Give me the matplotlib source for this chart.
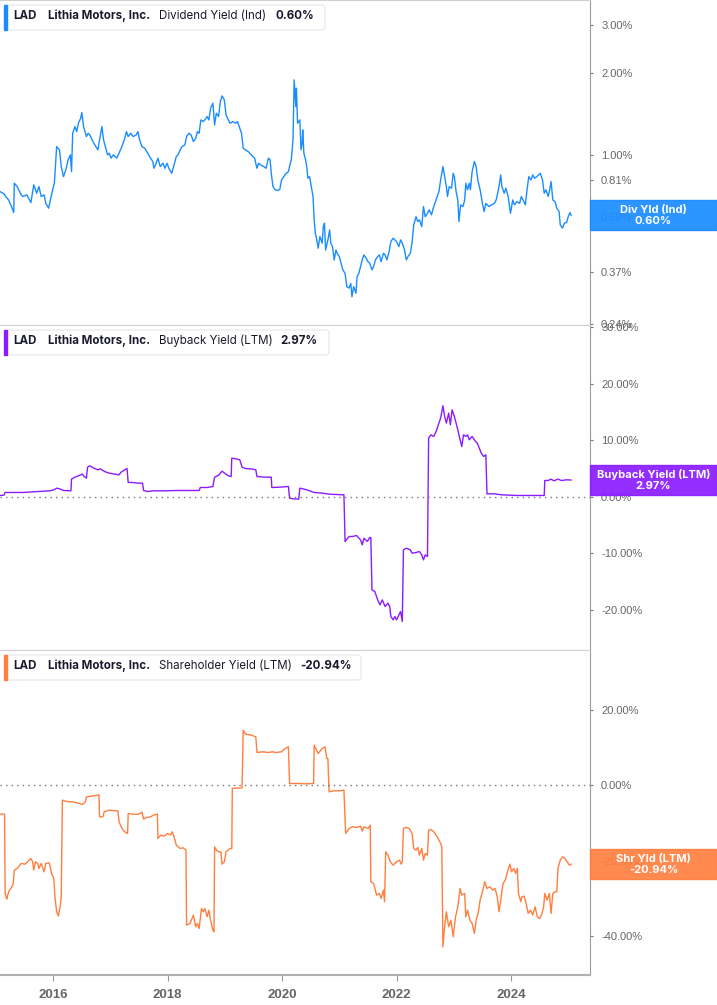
import matplotlib.pyplot as plt
from matplotlib.patches import Rectangle, FancyBboxPatch

# ---- data (decimal years, percent) ----
div_x = [2015.07, 2015.14, 2015.17, 2015.22, 2015.27, 2015.31, 2015.32, 2015.37, 2015.44, 2015.47,
         2015.54, 2015.61, 2015.66, 2015.71, 2015.75, 2015.79, 2015.84, 2015.87, 2015.92, 2015.95,
         2015.99, 2016.02, 2016.06, 2016.11, 2016.14, 2016.18, 2016.22, 2016.26, 2016.30, 2016.32,
         2016.34, 2016.38, 2016.41, 2016.44, 2016.48, 2016.50, 2016.53, 2016.58, 2016.61, 2016.64,
         2016.68, 2016.71, 2016.78, 2016.82, 2016.85, 2016.88, 2016.91, 2016.95, 2016.98, 2017.01,
         2017.05, 2017.08, 2017.11, 2017.15, 2017.20, 2017.25, 2017.28, 2017.31, 2017.35, 2017.40,
         2017.45, 2017.48, 2017.51, 2017.55, 2017.60, 2017.65, 2017.70, 2017.74, 2017.76, 2017.80,
         2017.83, 2017.87, 2017.92, 2017.95, 2017.99, 2018.02, 2018.07, 2018.12, 2018.15, 2018.18,
         2018.22, 2018.25, 2018.30, 2018.33, 2018.37, 2018.41, 2018.45, 2018.49, 2018.52, 2018.55,
         2018.58, 2018.62, 2018.65, 2018.69, 2018.72, 2018.75, 2018.79, 2018.82, 2018.85, 2018.89,
         2018.92, 2018.95, 2018.99, 2019.02, 2019.06, 2019.09, 2019.14, 2019.19, 2019.22, 2019.26,
         2019.29, 2019.32, 2019.36, 2019.41, 2019.46, 2019.52, 2019.56, 2019.59, 2019.62, 2019.68,
         2019.72, 2019.76, 2019.79, 2019.81, 2019.84, 2019.88, 2019.93, 2019.96, 2019.99, 2020.03,
         2020.06, 2020.11, 2020.13, 2020.16, 2020.19, 2020.21, 2020.24, 2020.25, 2020.27, 2020.31,
         2020.33, 2020.35, 2020.36, 2020.38, 2020.41, 2020.43, 2020.45, 2020.48, 2020.51, 2020.54,
         2020.56, 2020.58, 2020.60, 2020.63, 2020.66, 2020.70, 2020.72, 2020.74, 2020.76, 2020.80,
         2020.83, 2020.85, 2020.88, 2020.91, 2020.94, 2020.96, 2021.00, 2021.03, 2021.06, 2021.10,
         2021.13, 2021.17, 2021.20, 2021.22, 2021.25, 2021.29, 2021.31, 2021.34, 2021.37, 2021.40,
         2021.43, 2021.47, 2021.50, 2021.53, 2021.57, 2021.60, 2021.63, 2021.67, 2021.70, 2021.73,
         2021.77, 2021.80, 2021.83, 2021.87, 2021.90, 2021.94, 2021.97, 2022.00, 2022.04, 2022.07,
         2022.10, 2022.14, 2022.17, 2022.20, 2022.24, 2022.27, 2022.30, 2022.34, 2022.37, 2022.40,
         2022.44, 2022.47, 2022.50, 2022.54, 2022.57, 2022.61, 2022.64, 2022.67, 2022.71, 2022.74,
         2022.77, 2022.81, 2022.84, 2022.87, 2022.89, 2022.92, 2022.96, 2022.99, 2023.01, 2023.04,
         2023.07, 2023.09, 2023.12, 2023.16, 2023.19, 2023.21, 2023.24, 2023.27, 2023.29, 2023.32,
         2023.36, 2023.39, 2023.42, 2023.46, 2023.50, 2023.53, 2023.56, 2023.61, 2023.66, 2023.71,
         2023.74, 2023.78, 2023.82, 2023.84, 2023.88, 2023.91, 2023.95, 2023.99, 2024.03, 2024.06,
         2024.10, 2024.15, 2024.18, 2024.21, 2024.25, 2024.28, 2024.31, 2024.35, 2024.38, 2024.41,
         2024.45, 2024.48, 2024.51, 2024.55, 2024.58, 2024.61, 2024.65, 2024.68, 2024.70, 2024.73,
         2024.77, 2024.80, 2024.84, 2024.86, 2024.90, 2024.93, 2024.97, 2025.00, 2025.03, 2025.05]
div_y = [0.733, 0.719, 0.703, 0.683, 0.646, 0.614, 0.787, 0.765, 0.713, 0.703,
         0.713, 0.668, 0.776, 0.723, 0.765, 0.703, 0.713, 0.664, 0.637, 0.683,
         0.744, 0.787, 1.073, 1.043, 0.906, 0.832, 0.881, 0.959, 1.000, 0.868,
         1.201, 1.271, 1.218, 1.307, 1.364, 1.431, 1.271, 1.168, 1.201, 1.184,
         1.135, 1.104, 1.043, 1.168, 1.271, 1.135, 1.073, 1.000, 1.014, 0.973,
         1.000, 0.986, 0.973, 1.014, 1.073, 1.151, 1.218, 1.168, 1.201, 1.168,
         1.184, 1.218, 1.135, 1.073, 1.058, 1.014, 0.973, 0.946, 0.893, 0.932,
         0.973, 0.906, 0.932, 0.893, 0.932, 0.893, 0.856, 0.932, 0.986, 1.000,
         1.043, 1.073, 1.088, 1.168, 1.201, 1.184, 1.119, 1.151, 1.218, 1.201,
         1.345, 1.326, 1.345, 1.384, 1.345, 1.484, 1.549, 1.289, 1.423, 1.384,
         1.571, 1.648, 1.593, 1.403, 1.345, 1.307, 1.326, 1.307, 1.326, 1.253,
         1.201, 1.058, 1.043, 1.028, 1.000, 0.973, 0.893, 0.932, 0.919, 0.906,
         0.893, 0.973, 0.959, 0.856, 0.765, 0.744, 0.740, 0.748, 0.809, 0.832,
         0.851, 0.868, 0.906, 0.959, 1.135, 1.887, 1.505, 1.759, 1.307, 1.345,
         1.043, 1.104, 1.236, 1.014, 0.959, 0.906, 0.821, 0.832, 0.765, 0.703,
         0.577, 0.515, 0.494, 0.454, 0.501, 0.474, 0.545, 0.561, 0.447, 0.487,
         0.530, 0.474, 0.460, 0.411, 0.447, 0.435, 0.423, 0.400, 0.378, 0.367,
         0.328, 0.324, 0.337, 0.301, 0.328, 0.310, 0.357, 0.367, 0.389, 0.411,
         0.429, 0.417, 0.405, 0.400, 0.378, 0.389, 0.411, 0.423, 0.429, 0.405,
         0.435, 0.429, 0.411, 0.441, 0.480, 0.494, 0.487, 0.480, 0.460, 0.487,
         0.474, 0.447, 0.411, 0.423, 0.435, 0.474, 0.553, 0.593, 0.569, 0.577,
         0.545, 0.646, 0.593, 0.610, 0.628, 0.602, 0.637, 0.664, 0.703, 0.733,
         0.809, 0.906, 0.832, 0.765, 0.703, 0.765, 0.754, 0.856, 0.832, 0.733,
         0.683, 0.569, 0.655, 0.646, 0.683, 0.787, 0.744, 0.787, 0.744, 0.868,
         0.946, 0.906, 0.809, 0.744, 0.664, 0.619, 0.664, 0.646, 0.655, 0.664,
         0.683, 0.744, 0.844, 0.765, 0.723, 0.754, 0.703, 0.610, 0.683, 0.655,
         0.673, 0.664, 0.703, 0.683, 0.655, 0.744, 0.832, 0.809, 0.844, 0.821,
         0.832, 0.844, 0.856, 0.809, 0.723, 0.744, 0.703, 0.754, 0.798, 0.683,
         0.673, 0.637, 0.619, 0.553, 0.538, 0.561, 0.564, 0.593, 0.614, 0.600]

buy_x = [2015.07, 2015.14, 2015.16, 2015.27, 2015.47, 2015.74, 2015.94, 2016.01, 2016.06, 2016.11,
         2016.18, 2016.28, 2016.31, 2016.32, 2016.38, 2016.44, 2016.51, 2016.54, 2016.58, 2016.60,
         2016.64, 2016.71, 2016.78, 2016.82, 2016.87, 2016.91, 2016.98, 2017.08, 2017.15, 2017.18,
         2017.25, 2017.29, 2017.31, 2017.38, 2017.48, 2017.56, 2017.58, 2017.65, 2017.75, 2017.95,
         2018.15, 2018.42, 2018.55, 2018.57, 2018.69, 2018.79, 2018.82, 2018.89, 2018.95, 2019.01,
         2019.06, 2019.11, 2019.12, 2019.19, 2019.26, 2019.30, 2019.36, 2019.49, 2019.54, 2019.56,
         2019.69, 2019.81, 2019.82, 2019.96, 2020.11, 2020.13, 2020.19, 2020.29, 2020.31, 2020.36,
         2020.43, 2020.56, 2020.70, 2020.83, 2021.08, 2021.10, 2021.17, 2021.23, 2021.30, 2021.37,
         2021.40, 2021.43, 2021.49, 2021.53, 2021.55, 2021.57, 2021.62, 2021.67, 2021.71, 2021.75,
         2021.80, 2021.85, 2021.88, 2021.90, 2021.94, 2021.97, 2022.00, 2022.04, 2022.07, 2022.10,
         2022.12, 2022.17, 2022.24, 2022.27, 2022.34, 2022.40, 2022.44, 2022.47, 2022.50, 2022.54,
         2022.56, 2022.60, 2022.65, 2022.69, 2022.74, 2022.77, 2022.81, 2022.84, 2022.87, 2022.91,
         2022.94, 2022.97, 2023.01, 2023.04, 2023.07, 2023.11, 2023.14, 2023.17, 2023.21, 2023.24,
         2023.27, 2023.32, 2023.38, 2023.41, 2023.48, 2023.52, 2023.56, 2023.58, 2023.71, 2023.84,
         2024.11, 2024.45, 2024.58, 2024.59, 2024.65, 2024.70, 2024.75, 2024.82, 2024.88, 2024.97,
         2025.05]
buy_y = [0.24, 0.30, 0.77, 0.77, 0.77, 0.94, 1.06, 1.24, 1.53, 1.42,
         1.12, 1.06, 1.06, 3.13, 3.48, 3.72, 4.01, 3.60, 3.30, 5.25,
         5.49, 5.07, 4.78, 4.96, 4.66, 4.42, 4.19, 4.01, 3.89, 4.31,
         4.78, 5.01, 2.54, 2.54, 2.42, 2.42, 1.12, 0.94, 1.06, 1.06,
         1.12, 1.12, 1.12, 1.65, 1.65, 1.83, 3.48, 3.83, 4.54, 4.07,
         3.72, 3.60, 6.84, 6.73, 6.55, 5.25, 5.01, 4.90, 4.78, 3.60,
         3.48, 3.48, 1.65, 1.71, 1.83, -0.24, -0.35, -0.41, 1.53, 1.42,
         1.24, 0.77, 0.65, 0.47, 0.35, -7.90, -7.02, -7.02, -6.84, -7.61,
         -8.50, -7.32, -7.90, -7.20, -7.20, -16.46, -16.76, -18.23, -19.12, -18.23,
         -19.41, -18.82, -19.41, -21.18, -21.77, -21.18, -21.77, -20.88, -20.29, -22.06,
         -9.38, -9.09, -9.38, -9.97, -9.85, -9.68, -10.27, -11.15, -10.27, -10.56,
         10.38, 10.97, 10.68, 11.56, 13.04, 13.92, 16.11, 14.22, 13.04, 14.81,
         12.74, 15.40, 14.22, 13.04, 11.86, 10.09, 8.91, 10.97, 10.68, 10.97,
         10.09, 10.68, 9.79, 9.50, 7.73, 7.14, 7.43, 0.53, 0.53, 0.35,
         0.24, 0.24, 0.24, 2.89, 2.89, 3.13, 2.83, 3.13, 2.89, 3.01,
         2.97]

shr_x = [2015.07, 2015.15, 2015.16, 2015.19, 2015.22, 2015.26, 2015.30, 2015.32, 2015.37, 2015.44,
         2015.51, 2015.55, 2015.61, 2015.64, 2015.66, 2015.69, 2015.73, 2015.75, 2015.79, 2015.84,
         2015.87, 2015.93, 2015.97, 2016.01, 2016.03, 2016.06, 2016.09, 2016.12, 2016.14, 2016.16,
         2016.21, 2016.28, 2016.34, 2016.41, 2016.51, 2016.56, 2016.58, 2016.68, 2016.80, 2016.81,
         2016.87, 2016.89, 2016.98, 2017.08, 2017.13, 2017.15, 2017.20, 2017.25, 2017.30, 2017.31,
         2017.38, 2017.48, 2017.55, 2017.58, 2017.63, 2017.70, 2017.75, 2017.82, 2017.83, 2017.88,
         2017.94, 2018.00, 2018.05, 2018.08, 2018.12, 2018.15, 2018.22, 2018.27, 2018.32, 2018.33,
         2018.39, 2018.45, 2018.49, 2018.52, 2018.55, 2018.59, 2018.62, 2018.65, 2018.69, 2018.72,
         2018.75, 2018.79, 2018.81, 2018.82, 2018.85, 2018.89, 2018.93, 2018.95, 2018.99, 2019.02,
         2019.09, 2019.12, 2019.13, 2019.30, 2019.32, 2019.36, 2019.46, 2019.54, 2019.56, 2019.66,
         2019.76, 2019.83, 2019.89, 2019.99, 2020.03, 2020.11, 2020.13, 2020.29, 2020.43, 2020.55,
         2020.56, 2020.60, 2020.63, 2020.70, 2020.75, 2020.78, 2020.80, 2020.82, 2020.90, 2021.00,
         2021.08, 2021.11, 2021.17, 2021.23, 2021.30, 2021.37, 2021.40, 2021.43, 2021.50, 2021.54,
         2021.55, 2021.60, 2021.65, 2021.70, 2021.73, 2021.77, 2021.79, 2021.81, 2021.85, 2021.89,
         2021.94, 2022.00, 2022.05, 2022.08, 2022.10, 2022.12, 2022.17, 2022.22, 2022.27, 2022.30,
         2022.34, 2022.37, 2022.40, 2022.44, 2022.47, 2022.50, 2022.54, 2022.56, 2022.60, 2022.65,
         2022.71, 2022.77, 2022.79, 2022.81, 2022.84, 2022.87, 2022.91, 2022.95, 2022.99, 2023.03,
         2023.07, 2023.11, 2023.14, 2023.19, 2023.21, 2023.24, 2023.28, 2023.32, 2023.36, 2023.39,
         2023.43, 2023.46, 2023.50, 2023.54, 2023.58, 2023.63, 2023.68, 2023.72, 2023.76, 2023.79,
         2023.82, 2023.86, 2023.90, 2023.94, 2023.98, 2024.01, 2024.05, 2024.08, 2024.11, 2024.13,
         2024.17, 2024.19, 2024.23, 2024.27, 2024.30, 2024.34, 2024.38, 2024.42, 2024.46, 2024.50,
         2024.54, 2024.57, 2024.59, 2024.63, 2024.67, 2024.70, 2024.73, 2024.77, 2024.80, 2024.82,
         2024.86, 2024.90, 2024.94, 2024.98, 2025.02, 2025.05]
shr_y = [-7.68, -7.68, -28.70, -30.20, -28.26, -27.37, -26.23, -22.52, -22.08, -20.75,
         -20.93, -20.31, -19.43, -20.31, -22.52, -20.31, -20.75, -22.08, -20.75, -22.96,
         -20.75, -20.57, -23.40, -24.72, -29.58, -33.55, -34.70, -32.23, -29.58, -3.97,
         -4.24, -4.42, -4.42, -4.68, -5.12, -4.42, -3.09, -2.91, -2.56, -8.39,
         -8.39, -7.06, -6.62, -6.80, -6.80, -9.71, -11.48, -12.36, -12.80, -7.51,
         -7.68, -7.77, -7.15, -9.01, -8.57, -8.39, -7.95, -7.68, -14.13, -13.25,
         -13.51, -12.80, -13.25, -12.36, -14.13, -15.89, -16.78, -16.60, -17.22, -37.09,
         -36.64, -34.44, -37.53, -36.64, -37.97, -32.67, -33.55, -32.67, -34.88, -33.11,
         -35.76, -38.41, -38.85, -16.34, -17.22, -17.66, -17.66, -20.93, -20.31, -17.66,
         -16.78, -16.78, -0.88, -0.71, 14.57, 13.51, 13.25, 12.80, 8.65, 8.83,
         8.65, 8.83, 8.65, 8.83, 9.45, 10.15, 0.44, 0.44, 0.35, 0.44,
         10.60, 9.27, 8.39, 9.71, 10.15, 7.06, 7.06, -1.77, -1.50, -1.50,
         -1.32, -12.80, -11.48, -11.04, -11.21, -10.86, -12.19, -11.04, -11.48, -10.60,
         -25.61, -26.05, -29.14, -28.70, -30.02, -27.81, -30.90, -17.66, -18.54, -20.31,
         -21.19, -20.31, -19.87, -20.93, -20.31, -11.48, -11.21, -11.48, -12.80, -16.78,
         -17.22, -16.51, -18.54, -16.78, -19.87, -18.10, -18.54, -11.92, -11.74, -12.36,
         -13.69, -15.45, -16.34, -42.83, -37.53, -33.55, -37.53, -35.76, -40.18, -34.88,
         -32.23, -27.37, -29.14, -28.70, -34.88, -33.11, -35.76, -36.64, -39.29, -35.76,
         -33.55, -30.46, -28.26, -25.61, -27.37, -26.93, -27.81, -27.37, -29.58, -33.55,
         -30.46, -26.05, -25.17, -22.88, -20.93, -22.96, -22.08, -23.40, -22.08, -28.70,
         -30.90, -29.58, -29.40, -31.79, -33.99, -33.11, -34.44, -32.23, -34.88, -35.32,
         -33.99, -32.23, -28.70, -30.46, -28.70, -33.99, -28.70, -28.26, -28.26, -22.08,
         -19.87, -18.98, -19.43, -20.31, -21.19, -20.94]

year_ticks = [2016, 2018, 2020, 2022, 2024]
div_ticks = [3.0, 2.0, 1.0, 0.81, 0.59, 0.37, 0.24]
buy_ticks = [30, 20, 10, 0, -10, -20]
shr_ticks = [20, 0, -20, -40]

W, H = 717, 1005
fig = plt.figure(figsize=(W / 100, H / 100), dpi=100)

GRID = "#d0d0d0"
AXC = "#9a9a9a"
TXT = "#666666"


def make_ax(top, bottom):
    ax = fig.add_axes([0, 1 - bottom / H, 590 / W, (bottom - top) / H])
    ax.set_xlim(2015.07, 2025.38)
    ax.yaxis.tick_right()
    ax.spines["left"].set_visible(False)
    ax.spines["right"].set_color(AXC)
    ax.spines["top"].set_color(GRID)
    ax.spines["bottom"].set_color(GRID)
    ax.tick_params(axis="y", which="major", length=2, color="#777777",
                   labelsize=8, labelcolor=TXT, pad=6)
    ax.tick_params(axis="y", which="minor", length=0)
    return ax


ax1 = make_ax(0, 325)
ax2 = make_ax(325, 650)
ax3 = make_ax(650, 975)

# panel 1 - dividend yield (log scale)
ax1.plot(div_x, div_y, color="#1a8cff", lw=1.0)
ax1.set_yscale("log")
ax1.set_ylim(0.237, 3.71)
ax1.set_yticks(div_ticks)
ax1.set_yticklabels(["%.2f%%" % v for v in div_ticks], family="Liberation Sans")
ax1.minorticks_off()

# panel 2 - buyback yield
ax2.plot(buy_x, buy_y, color="#8a1cff", lw=1.0)
ax2.axhline(0, color="#777777", lw=1, ls=(0, (1, 3)))
ax2.set_ylim(-27.1, 30.4)
ax2.set_yticks(buy_ticks)
ax2.set_yticklabels(["%.2f%%" % v for v in buy_ticks], family="Liberation Sans")

# panel 3 - shareholder yield
ax3.plot(shr_x, shr_y, color="#ff7f3f", lw=1.0)
ax3.axhline(0, color="#777777", lw=1, ls=(0, (1, 3)))
ax3.set_ylim(-50.3, 35.8)
ax3.set_yticks(shr_ticks)
ax3.set_yticklabels(["%.2f%%" % v for v in shr_ticks], family="Liberation Sans")

for ax in (ax1, ax2):
    ax.set_xticks([])
ax3.set_xticks(year_ticks)
ax3.set_xticklabels([str(y) for y in year_ticks], family="Liberation Sans",
                    fontweight="bold", fontsize=9.5, color=TXT)
ax3.tick_params(axis="x", length=4, color=AXC, pad=6)
ax3.spines["bottom"].set_color("#b0b0b0")
ax3.spines["bottom"].set_linewidth(1.5)


# legend boxes top-left
def legend_box(top, width, color, label, value, value_x):
    box = FancyBboxPatch((5 / W, 1 - (top + 30) / H), (width - 5) / W, 25 / H,
                         boxstyle="round,pad=0,rounding_size=0.004",
                         transform=fig.transFigure, facecolor="white",
                         edgecolor="#e6e6e6", lw=0.8)
    fig.add_artist(box)
    fig.add_artist(Rectangle((4 / W, 1 - (top + 30) / H), 3 / W, 25 / H,
                             transform=fig.transFigure, color=color))
    yc = 1 - (top + 16) / H
    kw = dict(va="center", fontsize=8.3, family="Inter", color="#1a1a2e")
    fig.text(13 / W, yc, "LAD", fontweight="bold", **kw)
    fig.text(48 / W, yc, "Lithia Motors, Inc.", fontweight="bold", **kw)
    fig.text(159 / W, yc, label, **kw)
    fig.text(value_x / W, yc, value, fontweight="bold", **kw)


legend_box(0, 325, "#1a8cff", "Dividend Yield (Ind)", "0.60%", 276)
legend_box(325, 329, "#8a1cff", "Buyback Yield (LTM)", "2.97%", 280)
legend_box(650, 361, "#ff7f3f", "Shareholder Yield (LTM)", "-20.94%", 300)


# last value boxes on the right axis (slightly see-through like the original)
def value_box(ax, yval, color, name, label):
    yd = ax.transData.transform((2020, yval))[1]
    fig.add_artist(Rectangle((590 / W, (yd - 15) / H), 127 / W, 30 / H,
                             transform=fig.transFigure, color=color, alpha=0.92))
    kw = dict(ha="center", va="center", color="white", fontweight="bold",
              fontsize=8, family="Inter")
    fig.text(653.5 / W, (yd + 5.5) / H, name, **kw)
    fig.text(653.5 / W, (yd - 5.5) / H, label, **kw)


value_box(ax1, div_y[-1], "#1a8cff", "Div Yld (Ind)", "0.60%")
value_box(ax2, buy_y[-1], "#8a1cff", "Buyback Yield (LTM)", "2.97%")
value_box(ax3, shr_y[-1], "#ff7f40", "Shr Yld (LTM)", "-20.94%")

fig.savefig("out.png", dpi=100)
